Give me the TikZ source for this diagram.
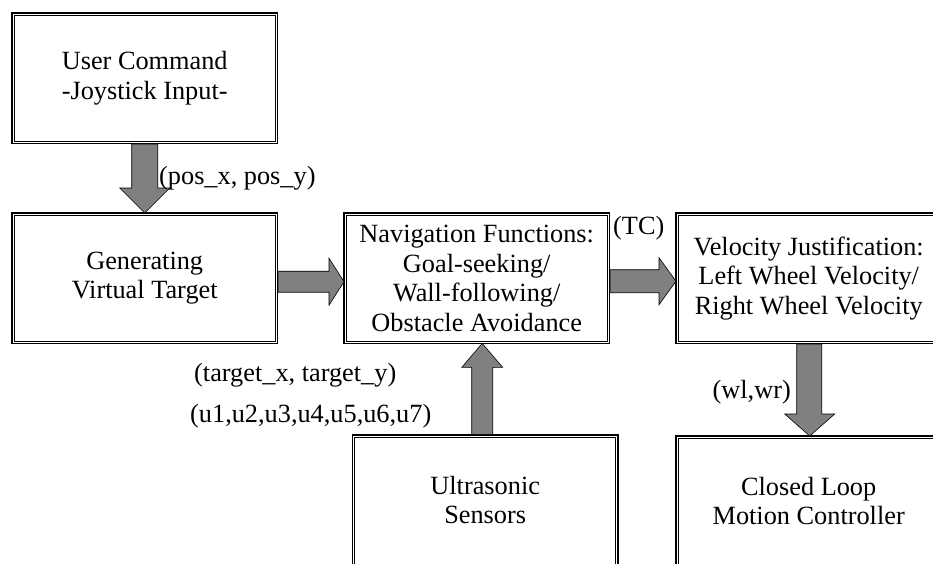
\documentclass[tikz,border=0pt]{standalone}
\usepackage{fontspec}
\setmainfont{Liberation Serif}
\usetikzlibrary{calc}
\definecolor{arrowgray}{RGB}{128,128,128}
\begin{document}
\begin{tikzpicture}[x=1pt,y=-1pt,
  font=\fontsize{26.3}{29.5}\selectfont,
  box/.style={align=center, inner sep=0pt, minimum width=265pt, minimum height=130pt, anchor=north west},
  outerline/.style={draw=black, line width=1.2pt},
  innerline/.style={draw=black, line width=0.8pt},
  barrow/.style={draw=black, line width=0.6pt, fill=arrowgray, line join=miter},
  lbl/.style={inner sep=0pt}]
\useasboundingbox (0,0) rectangle (933,564);
\clip (0,0) rectangle (933,564);
\fill[white] (0,0) rectangle (933,564);

\node[box] (user) at (12,13) {User Command\\-Joystick Input-};
\node[box] (gen) at (12,213) {Generating\\Virtual Target};
\node[box] (nav) at (344,213) {Navigation Functions:\\Goal-seeking/\\Wall-following/\\Obstacle Avoidance};
\node[box] (vel) at (676,213) {Velocity Justification:\\Left Wheel Velocity/\\Right Wheel Velocity};
\node[box] (ultra) at (352.5,435) {Ultrasonic\\Sensors};
\node[box] (closed) at (676,436) {Closed Loop\\Motion Controller};

\foreach \b in {user,gen,nav,vel}{
  \draw[outerline] (\b.north west) rectangle (\b.south east);
  \draw[innerline] ([shift={(2.3,2.3)}]\b.north west) rectangle ([shift={(-2.3,-2.3)}]\b.south east);
}
\foreach \b in {ultra,closed}{
  \draw[outerline] (\b.north west) rectangle ([shift={(0,20)}]\b.south east);
  \draw[innerline] ([shift={(2.3,2.3)}]\b.north west) rectangle ([shift={(-2.3,20)}]\b.south east);
}

% user -> gen
\draw[barrow] ($(user.south)+(-13,0.6)$) -- ($(gen.north)+(-13,-25)$) -- ($(gen.north)+(-25,-25)$)
  -- (gen.north) -- ($(gen.north)+(25,-25)$) -- ($(gen.north)+(13,-25)$) -- ($(user.south)+(13,0.6)$) -- cycle;
% gen -> nav
\draw[barrow] ($(gen.east)+(0.6,-7)$) -- ($(nav.west)+(-15,-7)$) -- ($(nav.west)+(-15,-20)$)
  -- ($(nav.west)+(0,3.5)$) -- ($(nav.west)+(-15,27)$) -- ($(nav.west)+(-15,14)$) -- ($(gen.east)+(0.6,14)$) -- cycle;
% nav -> vel
\draw[barrow] ($(nav.east)+(0.6,-8.5)$) -- ($(vel.west)+(-17,-8.5)$) -- ($(vel.west)+(-17,-20.5)$)
  -- ($(vel.west)+(0,3)$) -- ($(vel.west)+(-17,26.5)$) -- ($(vel.west)+(-17,14.5)$) -- ($(nav.east)+(0.6,14.5)$) -- cycle;
% ultra -> nav
\draw[barrow] ($(ultra.north)+(-13.5,-0.6)$) -- ($(nav.south)+(-5,24)$) -- ($(nav.south)+(-15,24)$)
  -- ($(nav.south)+(5.5,0)$) -- ($(nav.south)+(26,24)$) -- ($(nav.south)+(16,24)$) -- ($(ultra.north)+(7.5,-0.6)$) -- cycle;
% vel -> closed
\draw[barrow] ($(vel.south)+(-12,0.6)$) -- ($(closed.north)+(-12,-22)$) -- ($(closed.north)+(-24,-22)$)
  -- ($(closed.north)+(1,0)$) -- ($(closed.north)+(26,-22)$) -- ($(closed.north)+(13,-22)$) -- ($(vel.south)+(13,0.6)$) -- cycle;

\node[lbl, anchor=west] (lpos) at (159,178) {(pos\_x, pos\_y)};
\node[lbl, anchor=west] (ltc) at (613,228) {(TC)};
\node[lbl, anchor=west] (ltgt) at (194,375) {(target\_x, target\_y)};
\node[lbl, anchor=west] (lu) at (190,416) {(u1,u2,u3,u4,u5,u6,u7)};
\node[lbl, anchor=east] (lw) at (791,392) {(wl,wr)};
\end{tikzpicture}
\end{document}
